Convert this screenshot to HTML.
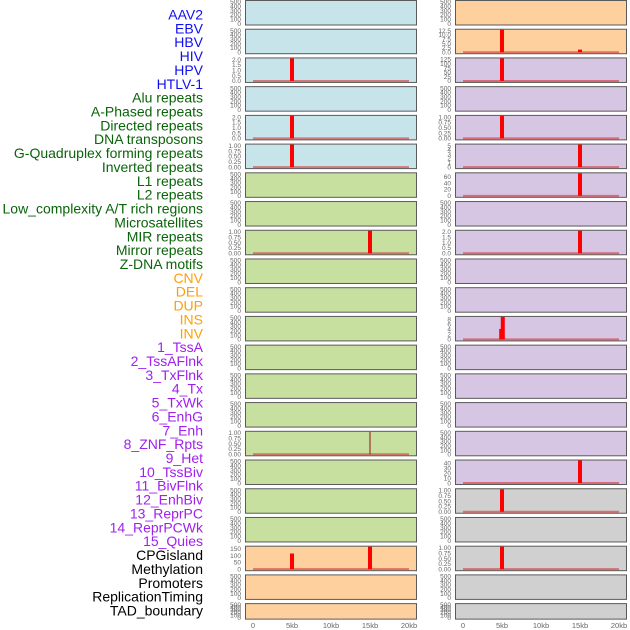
<!DOCTYPE html>
<html><head><meta charset="utf-8"><style>
body{margin:0;background:#fff;width:630px;height:630px;overflow:hidden}
svg{display:block;font-family:"Liberation Sans",sans-serif}
</style></head><body>
<svg id="c" width="630" height="630"></svg>
<script>
const labels=["AAV2","EBV","HBV","HIV","HPV","HTLV-1","Alu repeats","A-Phased repeats","Directed repeats","DNA transposons","G-Quadruplex forming repeats","Inverted repeats","L1 repeats","L2 repeats","Low_complexity A/T rich regions","Microsatellites","MIR repeats","Mirror repeats","Z-DNA motifs","CNV","DEL","DUP","INS","INV","1_TssA","2_TssAFlnk","3_TxFlnk","4_Tx","5_TxWk","6_EnhG","7_Enh","8_ZNF_Rpts","9_Het","10_TssBiv","11_BivFlnk","12_EnhBiv","13_ReprPC","14_ReprPCWk","15_Quies","CPGisland","Methylation","Promoters","ReplicationTiming","TAD_boundary"];
const labelGroups=[6,13,5,15,5];
const groupColors=["#1010ee","#0a640a","#ffa000","#a020f0","#000"];
const leftBg=["b","b","b","b","b","b","g","g","g","g","g","g","g","g","g","g","g","g","g","o","o","o"];
const rightBg=["o","o","p","p","p","p","p","p","p","p","p","p","p","p","p","p","p","y","y","y","y","y"];
const leftMax=[null,null,2.1,null,2.1,1.05,null,null,1.05,null,null,null,null,null,null,1.05,null,null,null,165,null,null];
const rightMax=[null,13,130,null,1.05,5.2,70,null,2.1,null,null,9,null,null,null,null,45,1.05,null,1.05,null,null];
const leftTicks=[null,null,[0,0.5,1,1.5,2],null,[0,0.5,1,1.5,2],[0,0.25,0.5,0.75,1],null,null,[0,0.25,0.5,0.75,1],null,null,null,null,null,null,[0,0.25,0.5,0.75,1],null,null,null,[0,50,100,150],null,null];
const rightTicks=[null,[0,2.5,5,7.5,10,12.5],[0,25,50,75,100,125],null,[0,0.25,0.5,0.75,1],[0,1,2,3,4,5],[0,20,40,60],null,[0,0.5,1,1.5,2],null,null,[0,2,4,6,8],null,null,null,null,[0,10,20,30,40],[0,0.25,0.5,0.75,1],null,[0,0.25,0.5,0.75,1],null,null];
const emptyTicks=[0,100,200,300,400,500];
const barCol=["L","L","L","L","L","L","L","R","R","R","R","R","R","R","R","R","R","R","R"];
const barRow=[2,4,5,8,15,19,19,1,1,2,4,5,6,8,11,11,16,17,19];
const barPos=[5,5,5,15,15,5,15,5,15,5,5,15,15,15,5.1,4.9,15,5,5];
const barVal=[2.1,2.1,1.05,1.05,1.05,115,165,13,1.5,130,1.05,5.2,70,2.1,9,4.2,45,1.05,1.05];
const xTicks=[0,5,10,15,20];
const xTickLabels=["0","5kb","10kb","15kb","20kb"];

const NS="http://www.w3.org/2000/svg",svg=document.getElementById('c');
function el(t,a,p){const e=document.createElementNS(NS,t);for(const k in a)e.setAttribute(k,a[k]);(p||svg).appendChild(e);return e;}
const colors={b:"#c8e4eb",g:"#c7e0a0",o:"#fed09e",p:"#d6c5e3",y:"#d0d0d0"};
const cols={L:245,R:455},PW=171,PITCH=28.72;
function rowTop(i){return i*PITCH+0.5;}
function rowH(i){return i===21?15.5:24.5;}
function xs(c,kb){return cols[c]+8+kb*7.8;}
function ys(i,v,max){const t=rowTop(i),h=rowH(i);return t+h-1.5-(v/max)*(h-2);}
let li=0;
labelGroups.forEach((n,g)=>{for(let k=0;k<n;k++){const t=el('text',{x:203,y:19.5+li*13.86,'text-anchor':'end','font-size':'14',fill:groupColors[g]});t.textContent=labels[li];

li++;}});
["L","R"].forEach(c=>{
 const bg=c==="L"?leftBg:rightBg,mx=c==="L"?leftMax:rightMax,tk=c==="L"?leftTicks:rightTicks;
 for(let i=0;i<22;i++){
  const r=el('rect',{x:cols[c]+0.5,y:rowTop(i),width:PW,height:rowH(i),fill:colors[bg[i]],stroke:"#5a5a5a",'stroke-width':1});
  
  
  const max=mx[i]||520,ticks=tk[i]||emptyTicks;
  ticks.forEach(v=>{const t=el('text',{x:cols[c]-4,y:ys(i,v,max)+2.3,'text-anchor':'end','font-size':'6.5',fill:"#666"});
   t.textContent=(mx[i]&&max<3)?v.toFixed(max<1.5?2:1):(max<14&&max>10?v.toFixed(1):String(v));
   
   });
  if(mx[i]){const b=el('line',{x1:xs(c,0),x2:xs(c,20),y1:ys(i,0,max),y2:ys(i,0,max),stroke:"rgba(210,50,50,0.6)",'stroke-width':2});
   
   }
 }
});
barVal.forEach((v,k)=>{const c=barCol[k],i=barRow[k],max=(c==="L"?leftMax:rightMax)[i];if(!max)return;
 const x=xs(c,barPos[k]),y=ys(i,v,max),y0=ys(i,0,max);
 const thin=(c==="L"&&i===15);
 const r=el('rect',{x:x-(thin?0.6:2),y:Math.max(y,rowTop(i)),width:thin?1.2:4,height:y0-Math.max(y,rowTop(i)),fill:thin?"#a03030":"#ff0000"});
 
 });
["L","R"].forEach(c=>xTicks.forEach((v,k)=>{const t=el('text',{x:xs(c,v),y:628,'text-anchor':'middle','font-size':'7.5',fill:"#666"});t.textContent=xTickLabels[k];
 
 }));
</script></body></html>
